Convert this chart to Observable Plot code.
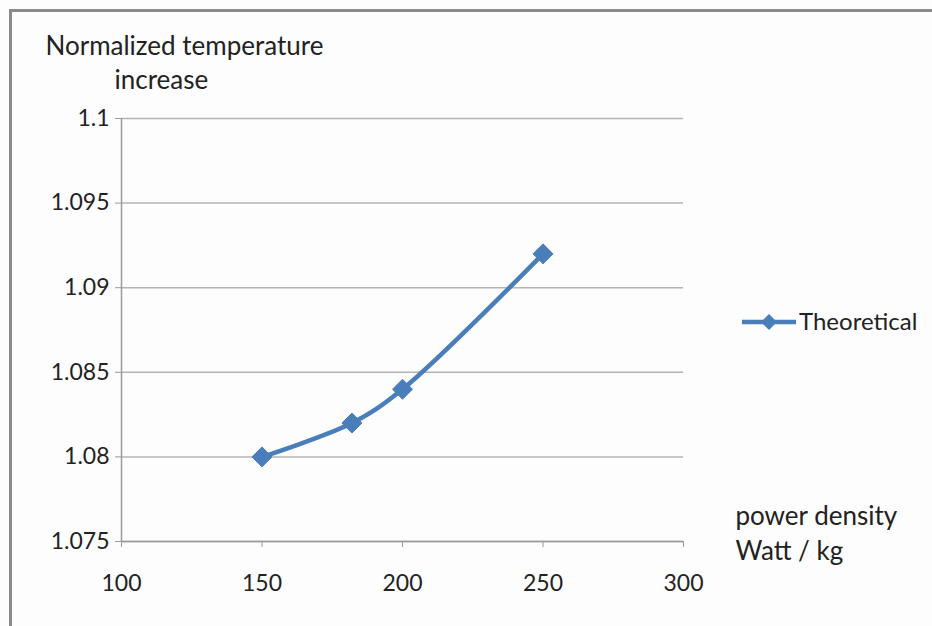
<!DOCTYPE html>
<html><head><meta charset="utf-8">
<script src="https://cdn.jsdelivr.net/npm/d3@7"></script>
<script src="https://cdn.jsdelivr.net/npm/@observablehq/plot@0.6"></script>
<style>
body{margin:0;background:#fff;}
#wrap{position:relative;width:932px;height:626px;overflow:hidden;background:#fdfdfd;font-family:Lato,sans-serif;}
#frame{position:absolute;left:9px;top:9px;width:940px;height:640px;border-left:3px solid #8a8a8a;border-top:3px solid #8a8a8a;box-sizing:border-box;}
#wrap svg{position:absolute;left:0;top:0;}
</style></head>
<body><div id="wrap"><div id="frame"></div></div>
<script>
const powerDensity = [150, 182, 200, 250];
const tempIncrease = [1.080, 1.082, 1.084, 1.092];
const xTicks = [100, 150, 200, 250, 300];
const yTicks = [1.075, 1.08, 1.085, 1.09, 1.095, 1.1];
const seriesName = "Theoretical";
const yTitle = ["Normalized temperature", "increase"];
const xTitle = ["power density", "Watt / kg"];
const blue = "#4a7ebb";

const data = powerDensity.map((x, i) => ({x, y: tempIncrease[i]}));

const chart = Plot.plot({
  width: 932, height: 626,
  marginLeft: 121, marginRight: 249, marginTop: 118, marginBottom: 85,
  style: {fontFamily: "Lato, sans-serif", fontSize: "23px", color: "#222", background: "transparent"},
  x: {domain: [100, 300], ticks: xTicks},
  y: {domain: [1.075, 1.1], ticks: yTicks},
  marks: [
    Plot.gridY(yTicks, {stroke: "#b4b4b4", strokeOpacity: 1, strokeWidth: 1.5}),
    Plot.ruleX([100], {stroke: "#9a9a9a", strokeWidth: 1.5}),
    Plot.ruleY([1.075], {stroke: "#9a9a9a", strokeWidth: 1.5}),
    Plot.axisY(yTicks, {tickSize: 6, tickPadding: 6, stroke: "#9a9a9a", fill: "#222", label: null, tickFormat: d => String(+d.toFixed(3)), fontSize: 23}),
    Plot.axisX(xTicks, {tickSize: 6, tickPadding: 27, stroke: "#9a9a9a", fill: "#222", label: null, tickFormat: d => String(d), fontSize: 23}),
    Plot.line(data, {x: "x", y: "y", stroke: blue, strokeWidth: 4.5, curve: "catmull-rom"}),
    Plot.dot(data, {x: "x", y: "y", symbol: "diamond2", r: 9, fill: blue, stroke: blue, strokeWidth: 1}),
    Plot.text([yTitle[0]], {frameAnchor: "top-left", dx: -76, dy: -72, textAnchor: "start", lineAnchor: "middle", fontSize: 26, fill: "#222"}),
    Plot.text([yTitle[1]], {frameAnchor: "top-left", dx: -7, dy: -38, textAnchor: "start", lineAnchor: "middle", fontSize: 26, fill: "#222"}),
    Plot.text([xTitle[0]], {frameAnchor: "bottom-right", dx: 52, dy: -25, textAnchor: "start", lineAnchor: "middle", fontSize: 26, fill: "#222"}),
    Plot.text([xTitle[1]], {frameAnchor: "bottom-right", dx: 52, dy: 10, textAnchor: "start", lineAnchor: "middle", fontSize: 26, fill: "#222"})
  ]
});
document.getElementById("wrap").appendChild(chart);

const svg = d3.select(chart);
// legend
const lg = svg.append("g").attr("transform", "translate(742,322)");
lg.append("line").attr("x1", 0).attr("x2", 54).attr("y1", 0).attr("y2", 0).attr("stroke", blue).attr("stroke-width", 4.5);
lg.append("path").attr("d", d3.symbol(d3.symbolDiamond2, 160)()).attr("transform", "translate(27,0)").attr("fill", blue);
lg.append("text").attr("x", 57).attr("y", 0).attr("dy", "0.35em").attr("text-anchor", "start").attr("font-size", 24).attr("font-family", "Lato, sans-serif").attr("fill", "#222").text(seriesName);
</script>
</body></html>
